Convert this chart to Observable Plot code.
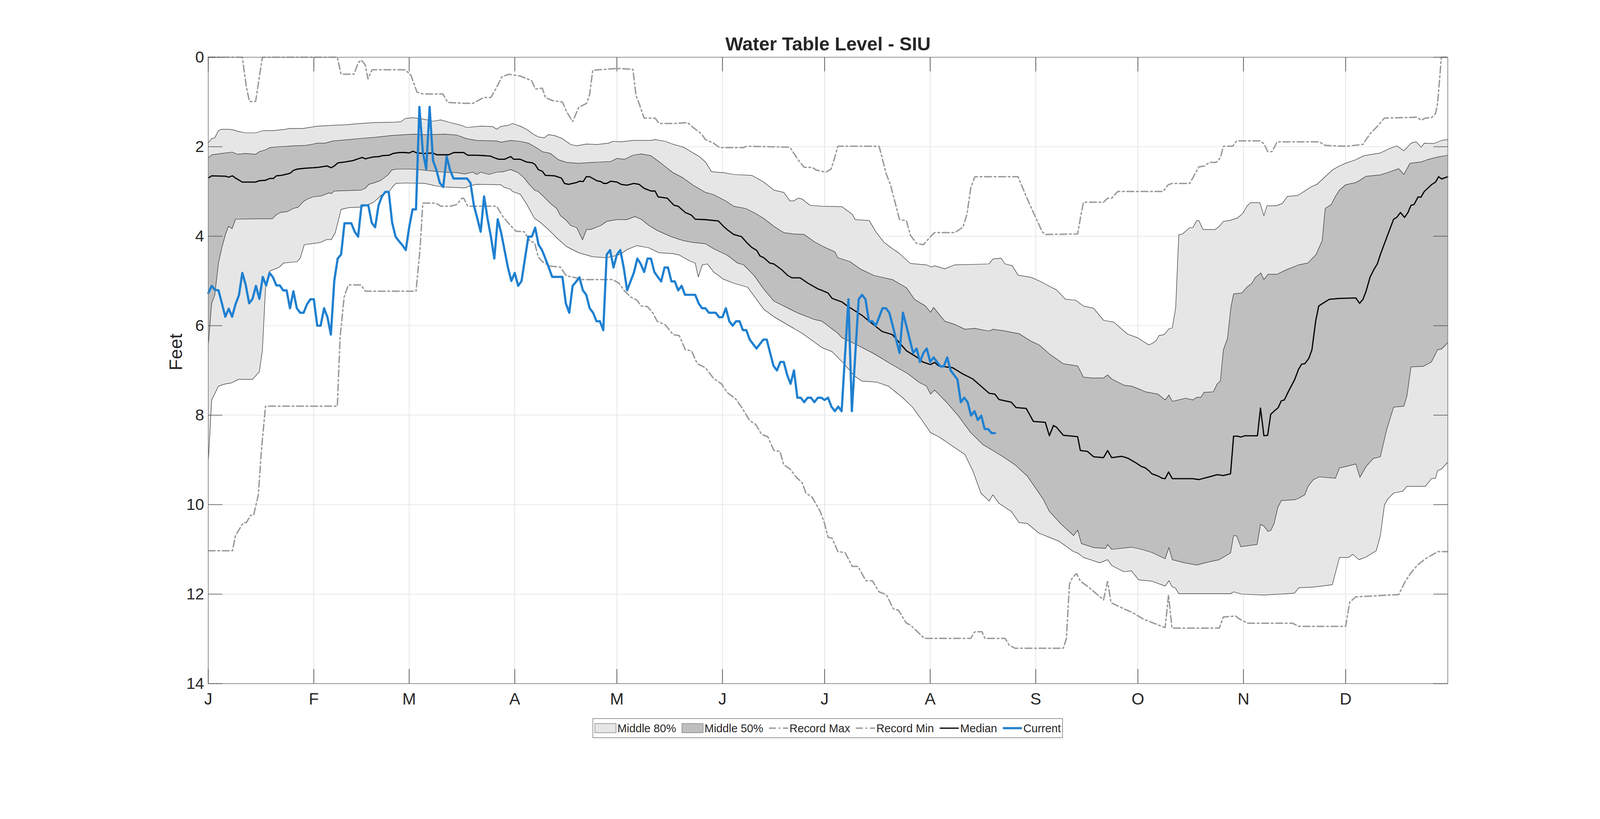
<!DOCTYPE html>
<html>
<head>
<meta charset="utf-8">
<script src="https://cdn.jsdelivr.net/npm/d3@7"></script>
<script src="https://cdn.jsdelivr.net/npm/@observablehq/plot@0.6"></script>
<style>
  html, body { margin: 0; padding: 0; background: #ffffff; width: 100%; height: 100%; overflow: hidden; }
  #chart { width: 100%; height: 100%; overflow: hidden; }
  #chart svg { display: block; max-width: none; }
</style>
</head>
<body>
<div id="chart"></div>
<script>
// ---------- DATA (day of year from Jan 1 = 0, value in feet below surface) ----------
const titleText = "Water Table Level - SIU";
const yLabel = "Feet";
const monthStarts = [0, 31, 59, 90, 120, 151, 181, 212, 243, 273, 304, 334];
const monthLabels = ["J", "F", "M", "A", "M", "J", "J", "A", "S", "O", "N", "D"];
const yTicks = [0, 2, 4, 6, 8, 10, 12, 14];
const legendLabels = ["Middle 80%", "Middle 50%", "Record Max", "Record Min", "Median", "Current"];

const p90 = [[0,1.91],[1,1.82],[1.9,1.80],[3,1.64],[3.9,1.61],[6.2,1.61],[7.7,1.63],[8.9,1.66],[10.9,1.69],[13.9,1.69],[16.2,1.64],[19.1,1.64],[22.6,1.61],[24.1,1.59],[27.9,1.59],[32,1.54],[36.7,1.52],[40.2,1.51],[44.9,1.48],[49,1.46],[54.8,1.45],[56.6,1.44],[57.8,1.37],[60.1,1.35],[61.9,1.37],[63.6,1.39],[66,1.43],[68.3,1.40],[70.6,1.45],[74.2,1.52],[75.9,1.57],[80,1.54],[83.5,1.55],[84.7,1.61],[85.9,1.55],[88.2,1.52],[89.3,1.48],[91.6,1.54],[93.7,1.62],[95.2,1.71],[96.9,1.78],[98.7,1.80],[99.9,1.73],[101.7,1.75],[104,1.82],[106.4,1.95],[108.2,1.98],[111.1,1.94],[114.1,1.95],[117.6,1.92],[118.8,1.88],[121.2,1.89],[124.7,1.86],[130,1.86],[131.2,1.84],[134.2,1.88],[135.9,1.93],[139.5,2.01],[141.3,2.09],[144.2,2.22],[146,2.34],[147.8,2.56],[151.3,2.58],[154.3,2.62],[159.6,2.64],[163.1,2.79],[166.1,2.97],[169,3.02],[170.8,3.21],[172,3.21],[173.2,3.15],[174.4,3.17],[176.7,3.31],[180.2,3.33],[186.1,3.34],[189.1,3.51],[190,3.63],[194.1,3.65],[196.2,3.92],[198.5,4.14],[200.9,4.28],[202.7,4.37],[206.2,4.61],[210.9,4.64],[212.4,4.69],[213.3,4.66],[216.3,4.73],[219.2,4.64],[229.3,4.62],[230.4,4.51],[232.8,4.49],[234,4.62],[236.1,4.66],[237.8,4.87],[241.7,4.92],[244.6,5.02],[247,5.12],[249.1,5.20],[251.7,5.41],[254.7,5.43],[257,5.56],[260,5.61],[262.9,5.88],[265.9,5.92],[270,6.19],[272.9,6.27],[274.7,6.36],[276.2,6.43],[277.1,6.40],[278.3,6.34],[279.2,6.22],[280.7,6.20],[282.1,6.07],[283.1,6.05],[284.1,5.59],[285,3.97],[286.1,3.95],[287.3,3.87],[288.2,3.81],[289.1,3.81],[290.3,3.65],[290.9,3.65],[292.1,3.85],[295.7,3.85],[296.9,3.78],[298.1,3.67],[299.9,3.65],[302.3,3.59],[303.8,3.49],[305,3.33],[306.1,3.25],[308.8,3.25],[310,3.54],[310.9,3.32],[313.6,3.32],[315.4,3.27],[316.9,3.11],[319.9,3.09],[321.4,3.02],[323.8,2.90],[325.6,2.84],[328,2.67],[330.1,2.52],[332.2,2.43],[334,2.37],[337,2.29],[339.4,2.20],[344.2,2.14],[346.6,2.05],[349,1.98],[351.1,2.09],[352,2.02],[353.2,1.92],[354.7,1.89],[356.2,2.01],[357.1,1.92],[359.8,1.93],[362.2,1.86],[364,1.84]];

const p75 = [[0,2.25],[1,2.18],[3.9,2.15],[7.1,2.12],[8.6,2.17],[10.9,2.15],[13.9,2.17],[15,2.11],[16.8,2.07],[18,2.02],[20.3,2.00],[23.2,1.99],[25,1.98],[28.5,1.97],[30.2,1.95],[32,1.92],[34.3,1.92],[36.7,1.87],[41.4,1.84],[45.5,1.81],[49,1.79],[53.7,1.75],[57.8,1.73],[60.7,1.72],[63.6,1.73],[69.5,1.72],[73,1.74],[75.9,1.82],[78.8,1.86],[84.7,1.87],[85.9,1.90],[88.8,1.86],[91.6,1.88],[94,1.92],[96.3,2.02],[98.1,2.11],[100.5,2.15],[102.8,2.29],[105.2,2.35],[108.8,2.37],[112.9,2.35],[118.2,2.33],[120,2.26],[122.3,2.28],[124.7,2.19],[127.1,2.16],[130,2.20],[133,2.37],[136.5,2.58],[139.5,2.70],[142.4,2.86],[146,3.02],[148.4,3.07],[151.9,3.21],[154.3,3.33],[157.8,3.38],[160.2,3.47],[163.1,3.60],[166.1,3.78],[169,3.92],[172,3.95],[175,3.96],[177.9,4.12],[180.3,4.22],[184,4.35],[184.9,4.48],[188.5,4.57],[191.4,4.73],[195.6,4.88],[200.9,4.97],[205,5.15],[207.4,5.41],[210.6,5.56],[212.1,5.70],[213,5.59],[216.3,5.90],[219.2,5.97],[222.2,6.08],[225.1,6.06],[229.3,6.12],[230.4,6.08],[233.4,6.11],[238.1,6.18],[241.7,6.35],[244,6.43],[247,6.63],[251.1,6.85],[255.3,6.90],[257,7.15],[259.4,7.17],[262.9,7.17],[264.1,7.10],[265.3,7.19],[268.9,7.33],[271.1,7.35],[273.5,7.42],[275.3,7.48],[278.9,7.53],[281,7.66],[282.1,7.55],[283.1,7.69],[284.9,7.66],[287,7.62],[289.1,7.66],[290.3,7.60],[291.5,7.60],[292.4,7.49],[295.1,7.48],[296.3,7.30],[297.2,7.24],[298.1,6.54],[299.3,6.29],[300.3,5.59],[301.1,5.29],[303.5,5.27],[305,5.14],[306.5,5.05],[307.4,4.93],[309.1,4.82],[310,4.97],[311.2,4.85],[313.9,4.85],[316.6,4.75],[320.2,4.64],[322.9,4.60],[325.3,4.41],[327.1,4.10],[328,3.38],[329.8,3.29],[331,3.11],[332.2,2.97],[334,2.85],[337,2.80],[338.2,2.75],[340,2.66],[344.2,2.63],[346.6,2.57],[349.6,2.49],[351.1,2.62],[352.9,2.37],[356.2,2.34],[358,2.29],[361,2.23],[364,2.19]];

const median = [[0,2.70],[1,2.65],[5.1,2.66],[6,2.68],[7.1,2.65],[8,2.70],[10,2.79],[13.9,2.79],[15,2.76],[16.8,2.75],[18,2.71],[19.1,2.71],[20,2.65],[21.5,2.64],[23.2,2.61],[24.1,2.59],[25,2.53],[26.1,2.50],[28.5,2.48],[30.8,2.47],[32.3,2.46],[34.9,2.43],[36.1,2.47],[37,2.43],[38.1,2.36],[40.2,2.34],[42.5,2.31],[44,2.27],[45.2,2.24],[46.1,2.27],[47.2,2.25],[48.4,2.23],[50.2,2.22],[51,2.20],[53.1,2.19],[54.3,2.15],[56,2.13],[57.8,2.13],[59,2.14],[60.1,2.10],[61.3,2.14],[63.6,2.15],[66,2.14],[67.1,2.18],[70.6,2.18],[72.1,2.13],[75,2.13],[76.2,2.19],[78.8,2.19],[81.2,2.20],[82.9,2.21],[84.1,2.25],[85.3,2.28],[87,2.28],[88.8,2.22],[89.7,2.28],[91.6,2.28],[93.4,2.34],[95.2,2.36],[96,2.40],[96.9,2.51],[98.1,2.55],[99,2.64],[101.7,2.65],[103.7,2.70],[104.6,2.82],[105.8,2.84],[108.2,2.80],[109,2.77],[110.1,2.78],[111,2.67],[112,2.67],[114.1,2.76],[115.3,2.78],[116.1,2.82],[117,2.82],[118.2,2.77],[120,2.79],[121.2,2.84],[122.9,2.86],[125,2.82],[126.5,2.84],[128,2.93],[130,2.99],[131.2,2.99],[132.1,3.12],[134.8,3.15],[135.9,3.24],[136.8,3.31],[138,3.33],[140.1,3.47],[141.9,3.53],[143,3.62],[146,3.63],[149.8,3.66],[151.3,3.78],[152.5,3.86],[154.3,3.96],[156.6,4.01],[158.1,4.14],[159.6,4.25],[161.1,4.32],[162,4.44],[163.1,4.48],[164.9,4.60],[166.1,4.62],[168.4,4.75],[170.2,4.88],[171.4,4.93],[173.8,4.93],[176.1,5.05],[179.1,5.18],[180.2,5.21],[182,5.27],[183.2,5.39],[186.1,5.47],[187.3,5.54],[192,5.77],[194.4,5.92],[197.9,6.13],[200.9,6.20],[205,6.56],[208,6.70],[209.8,6.81],[212.1,6.87],[213.3,6.82],[214.5,6.90],[218.6,6.94],[221.6,7.08],[224.5,7.19],[227.5,7.39],[229.3,7.51],[231,7.53],[232.2,7.65],[235.8,7.71],[237.2,7.83],[240.2,7.85],[242.3,8.14],[245.8,8.16],[247,8.46],[248.2,8.23],[249.1,8.27],[251.1,8.45],[255.3,8.48],[256.1,8.79],[258.2,8.81],[260,8.93],[262.9,8.95],[264.1,8.79],[265.3,8.95],[268.3,8.92],[270,8.96],[272.3,9.06],[274.1,9.15],[275,9.17],[276.2,9.24],[277.1,9.31],[278.9,9.36],[280.1,9.41],[281,9.42],[282,9.27],[283.1,9.42],[289.1,9.42],[290.9,9.44],[293.9,9.38],[296.3,9.33],[298.1,9.35],[300.2,9.31],[301.1,8.47],[302.3,8.47],[303.2,8.49],[304.4,8.46],[308.1,8.46],[309,7.84],[310,8.46],[311.1,8.45],[312,7.98],[313,7.91],[314.2,7.83],[315.1,7.68],[316,7.66],[317.2,7.47],[319,7.21],[320.2,6.97],[321.1,6.86],[322,6.85],[323.2,6.73],[324.1,6.54],[325.2,5.90],[326.1,5.56],[327.1,5.51],[329.2,5.41],[332.2,5.39],[337,5.38],[338.1,5.50],[339.1,5.41],[340,5.23],[341.2,4.91],[342.4,4.73],[343.3,4.62],[344.2,4.41],[346.6,3.92],[348.1,3.62],[349,3.58],[350.1,3.47],[351.3,3.58],[352.3,3.47],[353.2,3.31],[354.1,3.29],[355.3,3.12],[356.1,3.13],[357.1,3.00],[359.2,2.85],[360.4,2.79],[361.3,2.67],[362.2,2.72],[364,2.67]];

const p25 = [[0,6.45],[1,5.50],[1.9,5.32],[3,4.60],[3.9,4.28],[5.1,3.95],[5.9,3.78],[7,3.83],[8,3.62],[15.6,3.61],[18.8,3.61],[20,3.52],[21.2,3.47],[23.2,3.45],[25,3.38],[26.4,3.35],[27.9,3.23],[29.1,3.17],[30.8,3.12],[33.2,3.10],[35.5,3.03],[36.1,3.05],[37,2.99],[44.9,2.97],[46.1,2.93],[47.2,2.84],[49,2.80],[50.7,2.75],[52.8,2.63],[53.9,2.52],[55.4,2.50],[60.1,2.50],[66.5,2.55],[69.5,2.57],[73,2.58],[75.3,2.61],[77.7,2.57],[78.8,2.62],[80,2.57],[82.4,2.62],[84.7,2.57],[86.5,2.56],[88.8,2.51],[91,2.58],[92.8,2.70],[94,2.82],[95.8,2.97],[96.9,3.00],[98.7,3.13],[100.5,3.27],[102.3,3.38],[103.4,3.54],[105.2,3.65],[106.4,3.76],[108.2,3.81],[109.9,4.08],[111.1,3.85],[112.3,3.85],[115.3,3.76],[117,3.67],[120,3.63],[122.9,3.63],[125.3,3.56],[127.1,3.62],[129.4,3.76],[131.8,3.87],[135.9,4.01],[139.5,4.10],[142.4,4.14],[146,4.17],[148.4,4.28],[152.5,4.43],[155.4,4.60],[157.2,4.64],[160.2,4.87],[163.1,5.18],[166.1,5.45],[170.8,5.63],[173.2,5.72],[177.9,5.86],[180.2,5.90],[184.9,6.17],[186.1,6.27],[189.7,6.40],[195.6,6.63],[200.3,6.85],[205.6,7.08],[208.6,7.26],[210.9,7.35],[212.1,7.53],[213.3,7.44],[216.8,7.71],[220.4,8.03],[223.9,8.39],[227.5,8.66],[230.4,8.79],[233.4,8.93],[236.9,9.11],[240.5,9.36],[245.2,9.88],[247,10.15],[250.5,10.44],[254.1,10.69],[255.3,10.57],[256.4,10.87],[260,10.96],[263.5,10.98],[264.1,10.89],[265.3,11.00],[271.1,10.95],[274.1,11.00],[277.1,11.07],[281,11.21],[282.1,10.96],[283.1,11.23],[286.7,11.30],[290.3,11.35],[292.7,11.30],[296.9,11.23],[300.2,11.08],[301.1,10.69],[302,10.70],[303.2,10.94],[308,10.89],[309,10.44],[310,10.48],[311.2,10.60],[312.1,10.57],[313,10.42],[314.1,10.06],[315.1,9.91],[319,9.89],[320.2,9.86],[322,9.78],[322.9,9.60],[324.4,9.45],[326.2,9.38],[331,9.41],[332.2,9.18],[334,9.15],[337,9.09],[338.2,9.39],[340,9.15],[342.1,8.97],[344.2,8.93],[346,8.34],[348.1,7.82],[351.1,7.80],[352,7.57],[353.2,6.92],[356.8,6.91],[359.2,6.81],[361,6.54],[362.2,6.52],[364,6.38]];

const p10 = [[0,9.06],[1,7.66],[3,7.35],[5.1,7.30],[6.8,7.28],[8.9,7.20],[13,7.20],[15,7.03],[15.9,6.54],[16.8,5.18],[18,4.78],[20.9,4.69],[22.1,4.60],[26.1,4.57],[27,4.49],[28.2,4.19],[30.2,4.17],[32.9,4.14],[34.9,4.07],[36.1,4.08],[37.3,3.92],[38.2,3.65],[39,3.40],[41.4,3.36],[44.9,3.35],[46.6,3.30],[48.4,3.25],[49.9,3.15],[50.7,3.09],[51.9,3.03],[53.1,3.00],[54.3,2.88],[55.1,2.82],[57.8,2.81],[63.6,2.82],[65.4,2.85],[67.1,2.88],[69.5,2.90],[75.3,2.92],[77.1,2.87],[78.8,2.84],[85.9,2.85],[87,2.91],[88.8,2.95],[89.3,3.00],[91.6,3.06],[93.4,3.27],[95.8,3.60],[97.5,3.69],[99.9,3.85],[102.8,4.07],[105.2,4.23],[108.8,4.37],[112.9,4.46],[117,4.48],[119.4,4.44],[121.2,4.40],[122.9,4.30],[125.9,4.21],[129.4,4.26],[132.4,4.37],[136.5,4.39],[138.3,4.42],[141.3,4.55],[143,4.60],[143.9,4.91],[145.1,4.64],[146.6,4.62],[148.4,4.80],[151.3,4.96],[154.3,5.05],[158.4,5.14],[163.1,5.63],[166.1,5.80],[170.8,6.01],[174.4,6.17],[177.9,6.36],[180.2,6.49],[183.2,6.58],[186.7,6.85],[189.7,7.12],[192,7.24],[196.2,7.26],[199.7,7.35],[203.8,7.60],[206.8,7.82],[209.2,8.07],[212.1,8.39],[214.5,8.48],[217.4,8.63],[222.2,8.88],[224.5,9.24],[226.9,9.74],[229.3,9.92],[230.4,9.78],[232.2,9.97],[235.8,10.15],[238.1,10.40],[240.5,10.42],[244,10.64],[247,10.73],[249.9,10.82],[254.1,11.05],[255.3,11.08],[257,11.18],[261.8,11.30],[264.1,11.23],[265.3,11.36],[268.9,11.50],[271.1,11.48],[273.2,11.68],[277.1,11.71],[281,11.82],[282.1,11.70],[283.1,11.84],[284,11.86],[285,11.99],[300.2,11.99],[301.1,11.95],[303.5,12.00],[310,12.02],[319,11.98],[320.2,11.86],[325,11.84],[330.1,11.79],[332.2,11.18],[334.9,11.18],[336.1,11.11],[337.9,11.23],[340,11.17],[343,11.03],[344.2,10.69],[345.4,10.01],[346.3,9.88],[348.1,9.74],[350.8,9.70],[352,9.59],[357.4,9.59],[359.2,9.42],[360.4,9.41],[361,9.24],[362.2,9.20],[364,9.05]];

const recordMax = [[0,0],[10,0],[11.2,0.67],[12.1,0.99],[13.9,0.99],[14.9,0.49],[15.9,0],[37.9,0],[39,0.38],[42.8,0.38],[44,0.13],[44.9,0.06],[46.1,0.17],[46.9,0.49],[48.1,0.28],[57.8,0.28],[59.5,0.40],[61.3,0.78],[63,0.82],[68.9,0.82],[70.3,1.01],[75.3,1.03],[77.7,1.03],[80.9,0.90],[83,0.90],[84.7,0.67],[86.2,0.44],[88.2,0.38],[91.6,0.42],[94.9,0.52],[96.1,0.71],[98.1,0.69],[99,0.90],[101.1,0.97],[104,1.00],[105.2,1.21],[107,1.44],[108.8,1.12],[111.1,1.03],[112,0.83],[112.9,0.29],[120,0.25],[124.7,0.27],[125.6,0.85],[126.5,1.03],[128,1.36],[131.2,1.36],[132.4,1.48],[137.1,1.48],[140.7,1.46],[142.4,1.57],[144.8,1.71],[146,1.84],[148.4,1.92],[150.1,2.02],[157.2,2.02],[158.1,1.99],[170.8,2.01],[173.2,2.29],[175,2.46],[177.3,2.46],[178.5,2.52],[181.4,2.57],[182.9,2.50],[183.7,2.31],[184.9,1.99],[197,1.99],[197.9,2.25],[199.1,2.61],[200.3,2.84],[203,3.63],[205,3.65],[206.2,3.98],[208,4.16],[210,4.19],[212.1,4.01],[213.3,3.92],[219.2,3.92],[221.6,3.80],[222.8,3.51],[223.9,2.93],[225.1,2.67],[237.8,2.67],[240.2,3.11],[242.3,3.47],[244.9,3.90],[245.8,3.96],[255.3,3.95],[256.1,3.60],[257,3.24],[262.9,3.24],[264.1,3.15],[265.3,3.15],[267.1,3.00],[280.4,3.00],[281.9,2.85],[283.1,2.82],[288.2,2.82],[289.1,2.70],[290.9,2.45],[292.7,2.43],[293.9,2.35],[296,2.35],[297.2,2.25],[298.1,1.99],[300.8,1.99],[302,1.87],[308.8,1.87],[310,1.93],[311.1,2.11],[312.4,2.11],[313.9,1.89],[326.2,1.89],[328,1.97],[334,1.99],[339.1,1.95],[340,1.84],[341.5,1.68],[343,1.57],[345.4,1.36],[355,1.34],[356.2,1.41],[357.4,1.36],[359.2,1.35],[360.4,1.26],[361,1.03],[361.6,0.49],[362.1,0],[364,0]];

const recordMin = [[0,11.03],[7.1,11.03],[8,10.69],[10.3,10.40],[11.2,10.40],[12.4,10.24],[13.3,10.24],[14.7,9.78],[15.6,8.79],[16.8,7.80],[37.9,7.80],[38.7,6.27],[39.9,5.36],[41.1,5.09],[44.9,5.09],[46.1,5.23],[61,5.23],[62.2,4.28],[63,3.26],[66.8,3.26],[68.3,3.33],[71.2,3.33],[73,3.29],[74.5,3.15],[75,3.15],[76.2,3.33],[84.7,3.33],[86.5,3.56],[88.5,3.74],[90.4,3.89],[92.8,3.90],[94.6,4.12],[95.8,4.14],[96.9,4.46],[98.1,4.57],[100.5,4.67],[103.4,4.69],[105.2,4.89],[107,4.91],[109.9,4.97],[118.8,4.97],[120.6,5.05],[122.3,5.23],[124.1,5.36],[125.9,5.43],[127.1,5.56],[128.9,5.57],[130.6,5.72],[131.8,5.90],[134.2,5.98],[136.5,6.20],[138.3,6.22],[140.1,6.54],[141.9,6.56],[143.6,6.85],[146,6.94],[148.4,7.18],[150.7,7.30],[152.5,7.50],[154.9,7.64],[156.6,7.82],[159,8.12],[160.8,8.21],[162.5,8.43],[164.3,8.48],[166.1,8.79],[167.9,8.81],[169,9.11],[170.8,9.20],[172.6,9.38],[174.4,9.51],[175.5,9.74],[177.3,9.83],[179.7,10.15],[180.9,10.40],[182,10.73],[183.2,10.75],[184.9,11.05],[187,11.07],[189.1,11.38],[190.8,11.38],[193.1,11.70],[195,11.70],[197,11.95],[199.1,12.01],[201.2,12.33],[202.7,12.36],[205,12.65],[206.2,12.69],[210.3,12.99],[223.9,12.99],[225.1,12.84],[227.2,12.84],[228.1,12.99],[234,12.99],[235.2,13.14],[236.9,13.21],[251.1,13.21],[252,12.99],[252.9,11.77],[253.8,11.63],[255,11.54],[256.1,11.71],[258.8,11.86],[262.9,12.13],[264.1,11.71],[265.1,12.19],[268.9,12.33],[271.1,12.40],[274.7,12.56],[281,12.75],[282,12.02],[283,12.76],[296.9,12.76],[298.1,12.51],[301.7,12.49],[302.9,12.56],[305.3,12.65],[318.4,12.65],[320.2,12.72],[334,12.72],[335.2,12.18],[337,12.06],[349.6,12.01],[351.4,11.73],[353.2,11.52],[355,11.36],[357.4,11.21],[359.5,11.12],[361,11.05],[364,11.05]];

// Current year, one value per day starting Jan 1 (day 0)
const currentStartDay = 0;
const current = [5.27,5.11,5.20,5.21,5.50,5.80,5.62,5.80,5.52,5.32,
4.82,5.09,5.50,5.40,5.11,5.40,4.91,5.10,4.82,4.92,
5.10,5.10,5.21,5.21,5.61,5.23,5.61,5.71,5.71,5.52,
5.41,5.41,6.00,6.00,5.61,5.81,6.20,5.00,4.50,4.41,
3.71,3.71,3.71,3.90,4.01,3.31,3.31,3.31,3.70,3.80,
3.31,3.11,3.01,3.01,3.70,4.01,4.11,4.20,4.31,3.80,
3.40,3.40,1.11,2.11,2.50,1.11,2.31,2.52,2.81,2.90,
2.22,2.52,2.71,2.71,2.71,2.71,2.71,2.81,3.31,3.60,
3.90,3.11,3.60,4.01,4.50,3.62,3.92,4.31,4.70,5.00,
4.82,5.11,5.00,4.50,4.01,4.01,3.81,4.19,4.31,4.50,
4.70,4.91,4.91,4.91,4.91,5.50,5.71,5.11,5.02,4.92,
5.21,5.31,5.61,5.71,5.90,5.90,6.10,4.41,4.31,4.70,
4.41,4.31,4.70,5.21,5.01,4.81,4.50,4.62,4.80,4.50,
4.50,4.80,4.91,5.01,4.70,4.70,5.01,5.01,5.21,5.11,
5.31,5.31,5.31,5.31,5.50,5.61,5.61,5.71,5.71,5.71,
5.81,5.81,5.61,5.90,6.00,5.90,5.90,6.10,6.10,6.31,
6.41,6.51,6.41,6.31,6.31,6.61,6.90,7.00,6.81,6.81,
7.10,7.30,7.00,7.61,7.61,7.71,7.61,7.61,7.71,7.61,
7.61,7.66,7.61,7.81,7.91,7.81,7.91,6.65,5.41,7.91,
6.65,5.41,5.31,5.41,5.90,5.90,6.00,5.81,5.61,5.61,
5.71,6.00,6.31,6.61,5.71,6.00,6.31,6.61,6.51,6.81,
6.61,6.51,6.81,6.71,6.81,6.91,6.91,6.71,7.00,7.10,
7.20,7.71,7.61,7.71,8.01,7.91,8.11,8.01,8.31,8.31,
8.40,8.40];

// ---------- LAYOUT (reference figure is 5375 x 2096; scale to the actual viewport) ----------
const REF_W = 5375, REF_H = 2096;
const de = document.documentElement;
const W = Math.max(300, de.clientWidth || window.innerWidth || REF_W);
let H = de.clientHeight || window.innerHeight || 0;
if (!H || H < 200) H = Math.round(W * REF_H / REF_W);
const sx = W / REF_W, sy = H / REF_H;
const s = Math.sqrt(sx * sy);          // font / stroke scale
const mL = 699 * sx, mR = 512 * sx, mT = 146 * sy, mB = 347 * sy;
const frameW = W - mL - mR, frameH = H - mT - mB;
const tickLen = 42 * s;
const font = "'Liberation Sans', Arial, Helvetica, sans-serif";
const textColor = "#262626";
const lightBand = "#e6e6e6", darkBand = "#bfbfbf";
const recordColor = "#999999";
const recordDash = [20, 8, 5, 8].map(v => (v * s).toFixed(1)).join(",");
const currentColor = "#1f80d0";

const rows = pairs => pairs.map(([day, ft]) => ({day, ft}));
const polygon = (upper, lower) => [...rows(upper), ...rows(lower).reverse()];
const currentRows = current.map((ft, i) => ({day: currentStartDay + i, ft}));

const chart = Plot.plot({
  width: W, height: H,
  marginLeft: mL, marginRight: mR, marginTop: mT, marginBottom: mB,
  style: {fontFamily: font, fontSize: `${46 * s}px`, color: textColor, background: "#ffffff"},
  x: {domain: [0, 364]},
  y: {domain: [0, 14], reverse: true},
  marks: [
    Plot.gridX(monthStarts.slice(1), {stroke: "#e1e1e1", strokeOpacity: 1, strokeWidth: 2 * s}),
    Plot.gridY(yTicks.slice(1, -1), {stroke: "#e1e1e1", strokeOpacity: 1, strokeWidth: 2 * s}),
    Plot.line(polygon(p90, p10), {x: "day", y: "ft", fill: lightBand, stroke: "none"}),
    Plot.line(polygon(p75, p25), {x: "day", y: "ft", fill: darkBand, stroke: "none"}),
    Plot.line(rows(p90), {x: "day", y: "ft", stroke: "#2b2b2b", strokeWidth: 1.4 * s}),
    Plot.line(rows(p10), {x: "day", y: "ft", stroke: "#2b2b2b", strokeWidth: 1.4 * s}),
    Plot.line(rows(p75), {x: "day", y: "ft", stroke: "#2b2b2b", strokeWidth: 1.4 * s}),
    Plot.line(rows(p25), {x: "day", y: "ft", stroke: "#2b2b2b", strokeWidth: 1.4 * s}),
    Plot.line(rows(recordMax), {x: "day", y: "ft", stroke: recordColor, strokeWidth: 4 * s, strokeDasharray: recordDash, strokeLinejoin: "miter"}),
    Plot.line(rows(recordMin), {x: "day", y: "ft", stroke: recordColor, strokeWidth: 4 * s, strokeDasharray: recordDash, strokeLinejoin: "miter"}),
    Plot.line(rows(median), {x: "day", y: "ft", stroke: "#000000", strokeWidth: 3.5 * s}),
    Plot.line(currentRows, {x: "day", y: "ft", stroke: currentColor, strokeWidth: 6.5 * s}),
    Plot.frame({stroke: "#7f7f7f", strokeWidth: 2 * s}),
    // inward ticks on all four sides
    Plot.ruleY(yTicks, {y: d => d, insetRight: frameW - tickLen, stroke: "#4d4d4d", strokeWidth: 2 * s}),
    Plot.ruleY(yTicks, {y: d => d, insetLeft: frameW - tickLen, stroke: "#4d4d4d", strokeWidth: 2 * s}),
    Plot.ruleX(monthStarts, {x: d => d, insetTop: frameH - tickLen, stroke: "#4d4d4d", strokeWidth: 2 * s}),
    Plot.ruleX(monthStarts, {x: d => d, insetBottom: frameH - tickLen, stroke: "#4d4d4d", strokeWidth: 2 * s}),
    Plot.axisY(yTicks, {tickSize: 0, tickPadding: 14 * sx, fontSize: 47 * s, label: null, tickFormat: d => String(d)}),
    Plot.axisX(monthStarts, {tickSize: 0, tickPadding: 24 * sy, fontSize: 48 * s, label: null,
      tickFormat: d => monthLabels[monthStarts.indexOf(d)]}),
    Plot.text([yLabel], {frameAnchor: "left", rotate: -90, dx: (591 - 699) * sx, fontSize: 54 * s, fill: textColor}),
    Plot.text([titleText], {frameAnchor: "top", lineAnchor: "bottom", dy: (128 - 146) * sy, fontSize: 55 * s, fontWeight: "bold", fill: textColor})
  ]
});
chart.setAttribute("width", W);
chart.setAttribute("height", H);
chart.style.width = W + "px";
chart.style.height = H + "px";
document.getElementById("chart").appendChild(chart);

// ---------- LEGEND (horizontal, boxed, centred under the axes) ----------
const svg = d3.select(chart);
const lgFont = 33 * s;
const boxTop = 1839 * sy, boxH = 49 * sy, midY = boxTop + boxH / 2;
const lg = svg.append("g").attr("font-family", font).attr("font-size", lgFont)
  .attr("fill", textColor).attr("text-anchor", "start").style("text-anchor", "start");
const box = lg.append("rect").attr("y", boxTop).attr("height", boxH)
  .attr("fill", "#ffffff").attr("stroke", "#8a8a8a").attr("stroke-width", 2 * s);
const items = lg.append("g");
const specs = [
  {type: "patch", fill: lightBand},
  {type: "patch", fill: darkBand},
  {type: "line", stroke: recordColor, w: 4, dash: recordDash},
  {type: "line", stroke: recordColor, w: 4, dash: recordDash},
  {type: "line", stroke: "#000000", w: 3.5, dash: null},
  {type: "line", stroke: currentColor, w: 6.5, dash: null}
];
let cx = 6 * s;
specs.forEach((it, i) => {
  const iconW = (it.type === "patch" ? 62 : 56) * s;
  if (it.type === "patch") {
    items.append("rect").attr("x", cx).attr("y", midY - 13.5 * s).attr("width", iconW).attr("height", 27 * s)
      .attr("fill", it.fill).attr("stroke", "#7a7a7a").attr("stroke-width", 1.5 * s);
  } else {
    const l = items.append("line").attr("x1", cx).attr("x2", cx + iconW).attr("y1", midY).attr("y2", midY)
      .attr("stroke", it.stroke).attr("stroke-width", it.w * s);
    if (it.dash) l.attr("stroke-dasharray", it.dash);
  }
  cx += iconW + 4 * s;
  const t = items.append("text").attr("x", cx).attr("y", midY + 0.36 * lgFont).attr("text-anchor", "start").text(legendLabels[i]);
  let tw = 0;
  try { tw = t.node().getComputedTextLength(); } catch (e) { tw = 0; }
  if (!tw) tw = legendLabels[i].length * 0.52 * lgFont;
  cx += tw + (i < specs.length - 1 ? 17 * s : 5 * s);
});
const boxW = cx;
const boxX = 2780.5 * sx - boxW / 2;
box.attr("x", boxX).attr("width", boxW);
items.attr("transform", `translate(${boxX},0)`);
</script>
</body>
</html>
